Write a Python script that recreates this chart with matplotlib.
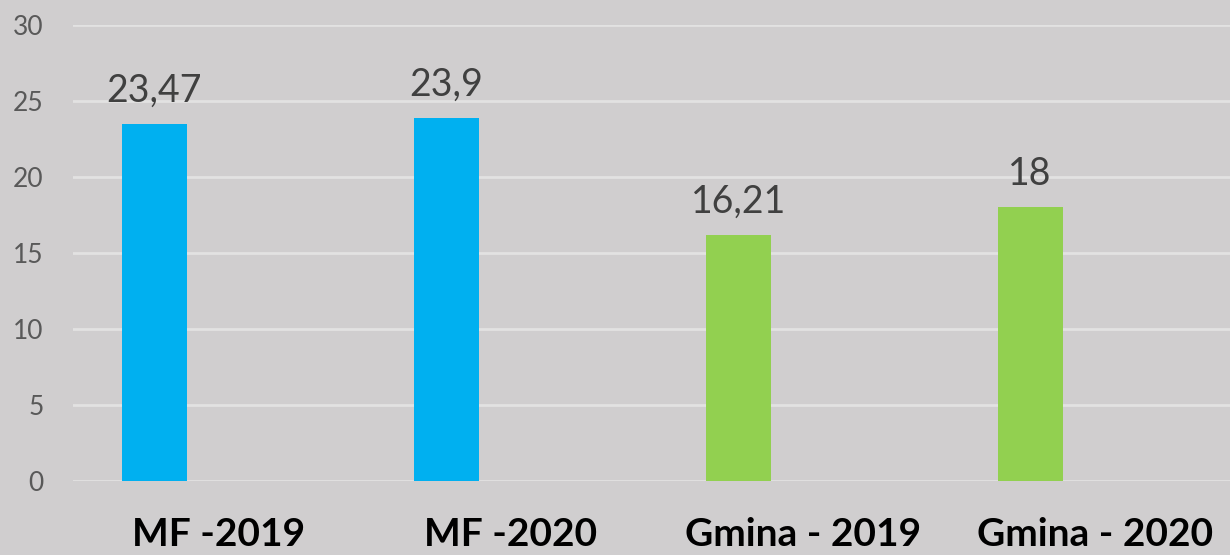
import matplotlib
matplotlib.use("Agg")
import matplotlib.pyplot as plt
import numpy as np

categories = ["MF -2019", "MF -2020", "Gmina - 2019", "Gmina - 2020"]
values = [23.47, 23.9, 16.21, 18]
value_labels = ["23,47", "23,9", "16,21", "18"]
bar_colors = ["#00B0F0", "#00B0F0", "#92D050", "#92D050"]
yticks = [0, 5, 10, 15, 20, 25, 30]

plt.rcParams['font.family'] = ['Lato', 'DejaVu Sans']
bg = "#D0CECF"

fig = plt.figure(figsize=(12.3, 5.55), dpi=100, facecolor=bg)
ax = fig.add_axes([0.0593, 0.1333, 0.9497, 0.8217])
ax.set_facecolor(bg)

x = np.arange(len(categories))
width = 0.222
bars = ax.bar(x - width, values, width=width, color=bar_colors, zorder=3)

for b, lab in zip(bars, value_labels):
    ax.text(b.get_x() + b.get_width() / 2, b.get_height() + 1.0, lab,
            ha='center', va='bottom', fontsize=27, color='#404040', zorder=4)

ax.set_xlim(-0.5, len(categories) - 0.5)
ax.set_ylim(0, 30)
ax.set_yticks(yticks)
ax.set_yticklabels([str(t) for t in yticks], fontsize=19, color='#595959')
ax.set_xticks(x)
ax.set_xticklabels(categories, fontsize=28, fontweight='bold', color='black')
ax.tick_params(axis='y', length=0, pad=21)
ax.tick_params(axis='x', length=0, pad=26)
ax.yaxis.grid(True, color='#E2E2E2', linewidth=2, zorder=0)
ax.set_axisbelow(True)
for s in ax.spines.values():
    s.set_visible(False)

fig.savefig("out.png", dpi=100, facecolor=bg)
